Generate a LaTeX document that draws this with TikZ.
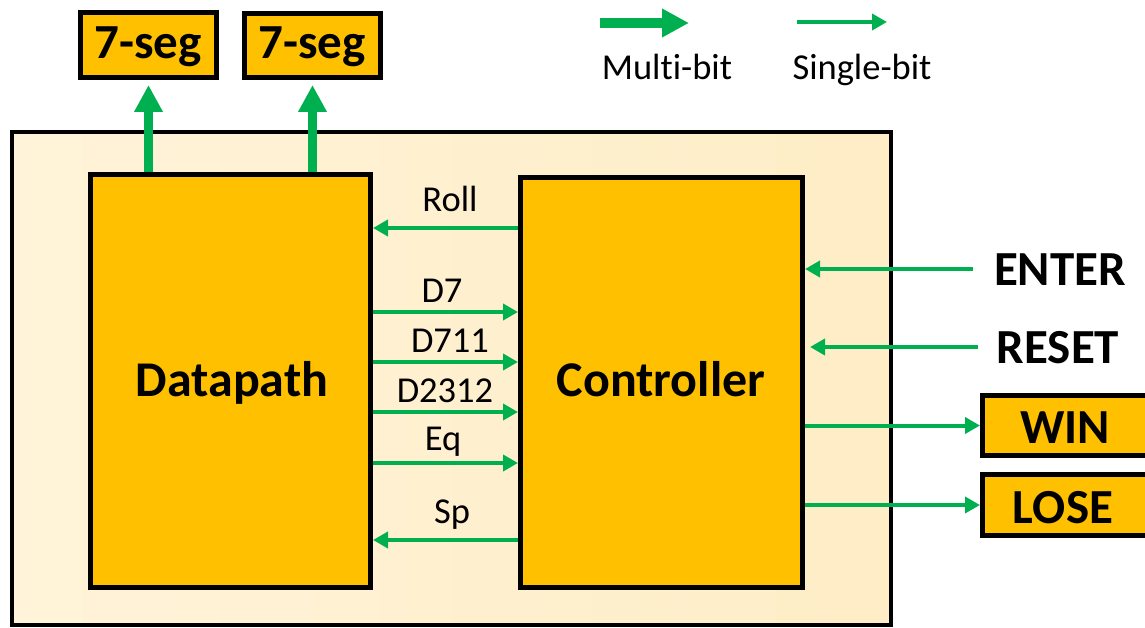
\documentclass[tikz,border=0pt]{standalone}
\usepackage{fontspec}
\setmainfont{Carlito}[Ligatures={NoCommon}]
\usetikzlibrary{arrows.meta}
\definecolor{gold}{HTML}{FFC000}
\definecolor{grn}{HTML}{00B050}
\definecolor{bgL}{HTML}{FFF3D9}
\definecolor{bgM}{HTML}{FDE6B2}
\definecolor{bgR}{HTML}{FEEDC6}
\begin{document}
\begin{tikzpicture}[x=1pt,y=-1pt,
  blk/.style={draw=black, line width=5pt, fill=gold, inner sep=0pt},
  big/.style={font=\fontsize{49}{49}\selectfont\bfseries, inner sep=0pt, anchor=base},
  lbl/.style={font=\fontsize{36.5}{36.5}\selectfont, inner sep=0pt, anchor=base},
  sb/.style={draw=grn, line width=4pt, -{Triangle[length=15pt,width=16pt]}},
  mb/.style={draw=grn, line width=9pt, -{Triangle[length=27pt,width=27pt]}},
]
\useasboundingbox (0,0) rectangle (1145,628);
\clip (0,0) rectangle (1145,628);
% outer frame
\node[draw=black, line width=4pt, left color=bgL, middle color=bgM, right color=bgR,
      minimum width=879pt, minimum height=493pt, inner sep=0pt] (outer) at (451.5,378.5) {};
% blocks
\node[blk, minimum width=280pt, minimum height=413pt] (dp) at (230.5,381) {};
\node[blk, minimum width=282pt, minimum height=410pt] (ctl) at (661.5,382.5) {};
\node[big, font=\fontsize{50}{50}\selectfont\bfseries] (dptext) at (232,396) {Datapath};
\node[big, font=\fontsize{50}{50}\selectfont\bfseries] (ctltext) at (661,396) {Controller};
% 7-seg boxes
\node[blk, minimum width=136pt, minimum height=65pt] (seg1) at (148.5,45) {};
\node[blk, minimum width=136pt, minimum height=64pt] (seg2) at (312.5,45.5) {};
\node[big] (seg1t) at (148,59) {7-seg};
\node[big] (seg2t) at (312,59) {7-seg};
% output boxes
\node[blk, minimum width=200pt, minimum height=60pt] (win) at (1082.5,425.5) {};
\node[blk, minimum width=200pt, minimum height=61pt] (lose) at (1082.5,505) {};
\node[big] (wint) at (1065,443) {WIN};
\node[big] (loset) at (1063,523) {LOSE};
% inputs
\node[big] (enter) at (1060,285) {ENTER};
\node[big] (reset) at (1058,363) {RESET};
\coordinate (enterS) at (973,269);
\coordinate (resetS) at (978,347);
% multi-bit outputs
\draw[mb, shorten >=5pt] (seg1.south |- dp.north) -- (seg1.south);
\draw[mb, shorten >=5pt] (seg2.south |- dp.north) -- (seg2.south);
% internal signals
\draw[sb] (ctl.west |- 0,228) -- (dp.east |- 0,228);
\draw[sb] (dp.east |- 0,312) -- (ctl.west |- 0,312);
\draw[sb] (dp.east |- 0,362) -- (ctl.west |- 0,362);
\draw[sb] (dp.east |- 0,412) -- (ctl.west |- 0,412);
\draw[sb] (dp.east |- 0,463) -- (ctl.west |- 0,463);
\draw[sb] (ctl.west |- 0,540) -- (dp.east |- 0,540);
\node[lbl] (lroll) at (450,212) {Roll};
\node[lbl] (ld7) at (442,302) {D7};
\node[lbl] (ld711) at (450,352) {D711};
\node[lbl] (ld2312) at (445,402) {D2312};
\node[lbl] (leq) at (443,450) {Eq};
\node[lbl] (lsp) at (452,523) {Sp};
% external signals
\draw[sb] (enterS) -- (ctl.east |- enterS);
\draw[sb, shorten >=5pt] (resetS) -- (ctl.east |- resetS);
\draw[sb] (ctl.east |- win.west) -- (win.west);
\draw[sb] (ctl.east |- lose.west) -- (lose.west);
% legend
\coordinate (m1) at (600,23);
\coordinate (m2) at (689,23);
\coordinate (s1) at (797,22);
\coordinate (s2) at (887,22);
\draw[mb, line width=10pt] (m1) -- (m2);
\draw[sb] (s1) -- (s2);
\node[lbl] (lmulti) at (667,80) {Multi-bit};
\node[lbl] (lsingle) at (862,80) {Single-bit};
\end{tikzpicture}
\end{document}
